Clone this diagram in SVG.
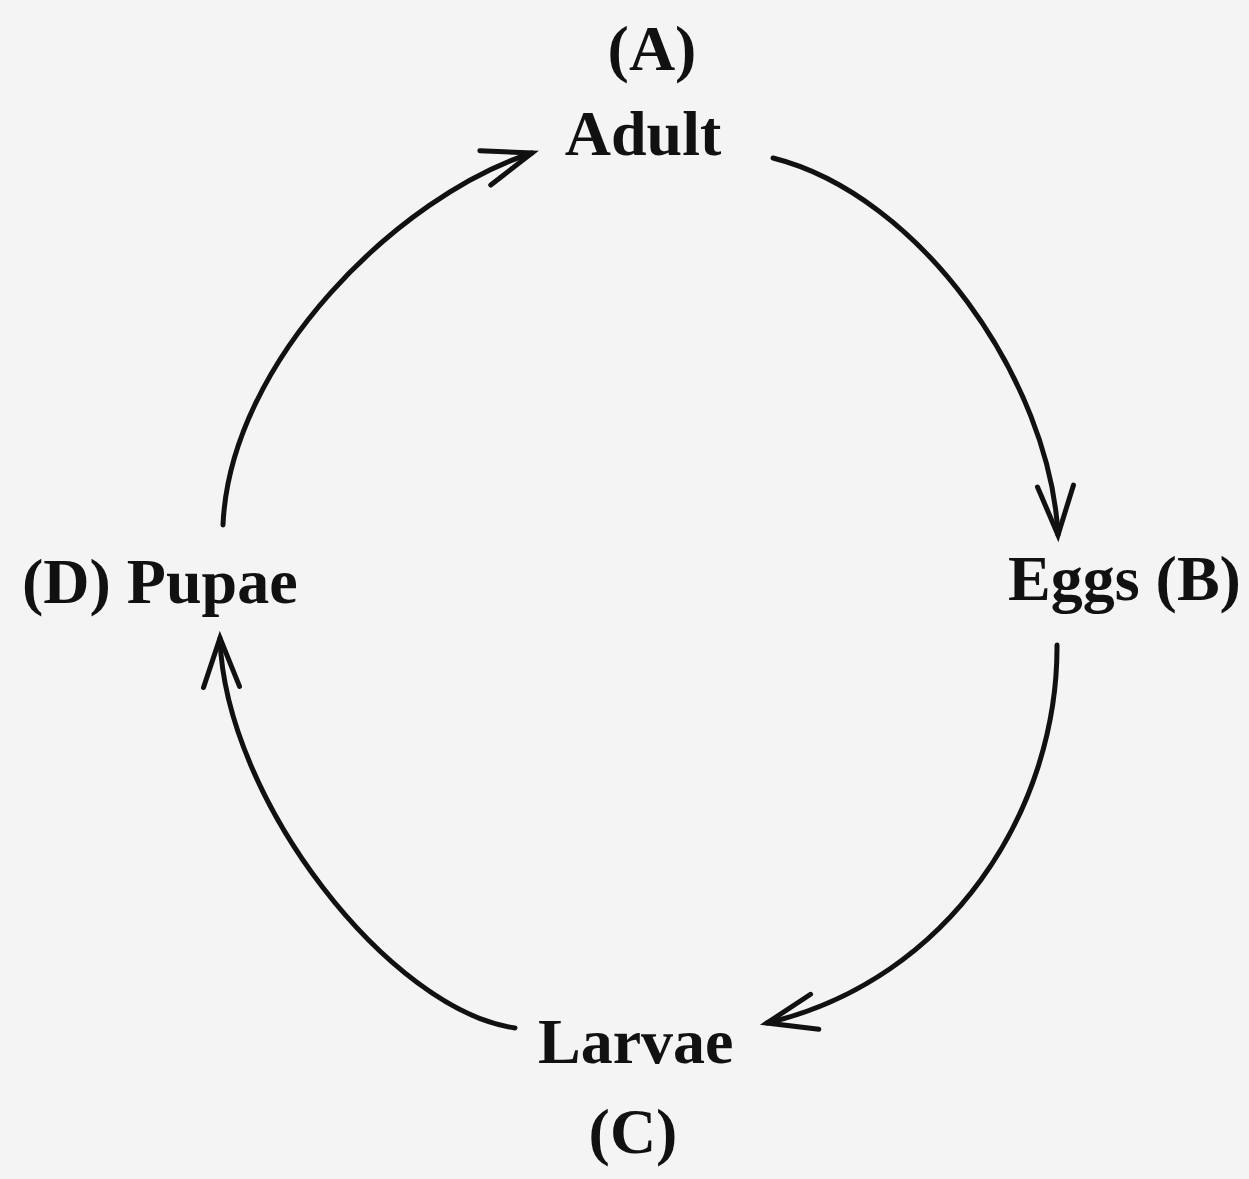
<svg xmlns="http://www.w3.org/2000/svg" width="1249" height="1179" viewBox="0 0 1249 1179">
  <style>
    .lbl { font-family: "Liberation Serif", "Times New Roman", serif; font-weight: bold; font-size: 64px; fill: #111; }
    .arc { fill: none; stroke: #111; stroke-width: 5; stroke-linecap: round; marker-end: url(#head); }
  </style>
  <defs>
    <marker id="head" markerUnits="userSpaceOnUse" markerWidth="70" markerHeight="50" viewBox="-60 -25 70 50" refX="0" refY="0" orient="auto">
      <path d="M -49 -18 L 0 0 L -49 18" fill="none" stroke="#111" stroke-width="5" stroke-linecap="round" stroke-linejoin="miter"/>
    </marker>
  </defs>
  <rect width="1249" height="1179" fill="#f4f4f4"/>
  <g id="connectors">
    <path id="a-to-b" class="arc" d="M 773 158 C 920 195 1050 380 1058 535"/>
    <path id="b-to-c" class="arc" d="M 1057 645 C 1058 810 950 980 767 1023"/>
    <path id="c-to-d" class="arc" d="M 515 1028 C 390 1010 225 800 220 638"/>
    <path id="d-to-a" class="arc" d="M 223 525 C 230 360 400 195 532 153"/>
  </g>
  <g id="node-adult">
    <text class="lbl" x="652" y="70" text-anchor="middle">(A)</text>
    <text class="lbl" x="643" y="155" text-anchor="middle">Adult</text>
  </g>
  <g id="node-eggs">
    <text class="lbl" x="1008" y="600">Eggs (B)</text>
  </g>
  <g id="node-larvae">
    <text class="lbl" x="538" y="1063">Larvae</text>
    <text class="lbl" x="633" y="1153" text-anchor="middle">(C)</text>
  </g>
  <g id="node-pupae">
    <text class="lbl" x="22" y="603">(D) Pupae</text>
  </g>
</svg>
